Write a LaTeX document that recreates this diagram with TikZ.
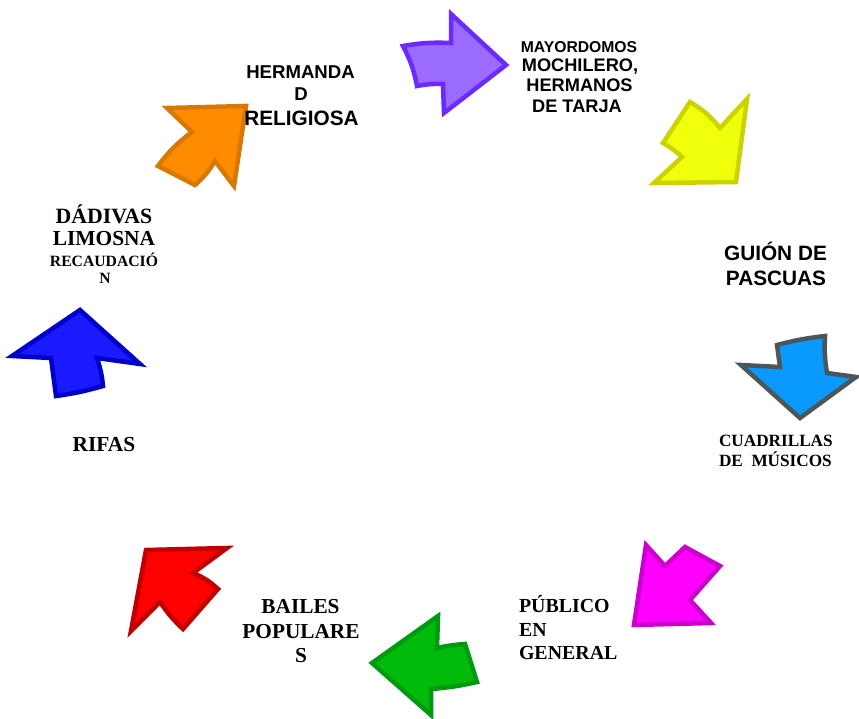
\documentclass[tikz,border=0pt]{standalone}
\usepackage{fontspec}
\newfontfamily\sansb{Liberation Sans}[BoldFont={Liberation Sans Bold}]
\newfontfamily\serifb{Liberation Serif}[BoldFont={Liberation Serif Bold}]
\newcommand{\fsz}[1]{\fontsize{#1}{#1}\selectfont}
\definecolor{purpf}{HTML}{9B6BFF}\definecolor{purpd}{HTML}{6B2BFF}
\definecolor{orgf}{HTML}{FF8C00}\definecolor{orgd}{HTML}{D97800}
\definecolor{yelf}{HTML}{F0FF0A}\definecolor{yeld}{HTML}{CCD200}
\definecolor{bluf}{HTML}{1A1AFF}\definecolor{blud}{HTML}{0000C8}
\definecolor{skyf}{HTML}{0A99FF}\definecolor{skyd}{HTML}{4A575A}
\definecolor{magf}{HTML}{FF00FF}\definecolor{magd}{HTML}{CC00CC}
\definecolor{grnf}{HTML}{00BB0A}\definecolor{grnd}{HTML}{009912}
\definecolor{redf}{HTML}{FF0000}\definecolor{redd}{HTML}{C00000}
\tikzset{
  blockarrow/.style 2 args={fill=#1, draw=#2, line width=4.5pt, line join=miter},
  lbl/.style={inner sep=0pt, outer sep=0pt, text=black, font=\bfseries}
}
\begin{document}
\begin{tikzpicture}[x=1pt,y=-1pt]
\useasboundingbox[fill=white] (0,0) rectangle (859,718);
% arrows
\draw[blockarrow={purpf}{purpd}] (403,46) to[bend left=6] (451,43) -- (451,14) -- (506,65) -- (444,113) -- (443,84) to[bend right=6] (417,86) to[bend right=8] (403,46) -- cycle;
\draw[blockarrow={orgf}{orgd}] (167,108) -- (246,106) -- (234,186) -- (215,161) to[bend left=8] (195,185) -- (158,166) to[bend left=8] (192,132) -- cycle;
\draw[blockarrow={yelf}{yeld}] (736,182) -- (747,99) -- (720,128) to[bend right=10] (690,102) -- (663,143) to[bend left=6] (682,157) -- (654,183) -- cycle;
\draw[blockarrow={bluf}{blud}] (80,310) -- (140,364) -- (97,358) to[bend left=6] (103,386) to[bend left=4] (56,396) -- (51,358) -- (12,356) -- cycle;
\draw[blockarrow={skyf}{skyd}] (777,345) to[bend left=4] (825,336) to[bend right=6] (827,373) -- (856,377) -- (800,418) -- (741,365) -- (780,367) -- cycle;
\draw[blockarrow={magf}{magd}] (634,625) -- (646,545) -- (665,566) -- (685,547) -- (720,566) -- (690,600) -- (711,623) -- cycle;
\draw[blockarrow={grnf}{grnd}] (372,663) -- (438,616) -- (437,648) to[bend left=4] (465,644) -- (477,682) to[bend left=4] (431,689) -- (431,715) -- cycle;
\draw[blockarrow={redf}{redd}] (146,550) -- (227,548) -- (193,573) to[bend left=10] (218,589) -- (183,629) to[bend left=6] (160,602) -- (131,631) -- cycle;
% texts
\node[lbl, anchor=base] (t1a) at (300.5,78.3) {\sansb\fsz{18.6}HERMANDA};
\node[lbl, anchor=base] (t1b) at (301,100) {\sansb\fsz{18.6}D};
\node[lbl, anchor=base] (t1c) at (301.5,125) {\sansb\fsz{20.8}RELIGIOSA};
\node[lbl, anchor=base] (t2a) at (579,52.3) {\sansb\fsz{15.7}MAYORDOMOS};
\node[lbl, anchor=base] (t2b) at (580,71.7) {\sansb\fsz{18.2}MOCHILERO,};
\node[lbl, anchor=base] (t2c) at (579.5,91.7) {\sansb\fsz{18.2}HERMANOS};
\node[lbl, anchor=base] (t2d) at (577,112.7) {\sansb\fsz{18.2}DE TARJA};
\node[lbl, anchor=base] (t3a) at (775.5,260) {\sansb\fsz{20.8}GUIÓN DE};
\node[lbl, anchor=base] (t3b) at (776,285) {\sansb\fsz{20.8}PASCUAS};
\node[lbl, anchor=base] (t4a) at (104,223.5) {\serifb\fsz{21.8}DÁDIVAS};
\node[lbl, anchor=base] (t4b) at (104,245.5) {\serifb\fsz{21.4}LIMOSNA};
\node[lbl, anchor=base] (t4c) at (104,266.5) {\serifb\fsz{15.7}RECAUDACIÓ};
\node[lbl, anchor=base] (t4d) at (105,283) {\serifb\fsz{15.7}N};
\node[lbl, anchor=base] (t5) at (104,451) {\serifb\fsz{21.4}RIFAS};
\node[lbl, anchor=base west] (t6a) at (719,446.7) {\serifb\fsz{17.2}CUADRILLAS};
\node[lbl, anchor=base west] (t6b) at (719,466.7) {\serifb\fsz{17.2}DE\ \ MÚSICOS};
\node[lbl, anchor=base west] (t7a) at (519,612.7) {\serifb\fsz{19.9}PÚBLICO};
\node[lbl, anchor=base west] (t7b) at (519,636) {\serifb\fsz{19.9}EN};
\node[lbl, anchor=base west] (t7c) at (519,659) {\serifb\fsz{19.9}GENERAL};
\node[lbl, anchor=base] (t8a) at (300.5,613.3) {\serifb\fsz{21.3}BAILES};
\node[lbl, anchor=base] (t8b) at (301,638.3) {\serifb\fsz{21.3}POPULARE};
\node[lbl, anchor=base] (t8c) at (301,662.5) {\serifb\fsz{21.3}S};
\end{tikzpicture}
\end{document}
